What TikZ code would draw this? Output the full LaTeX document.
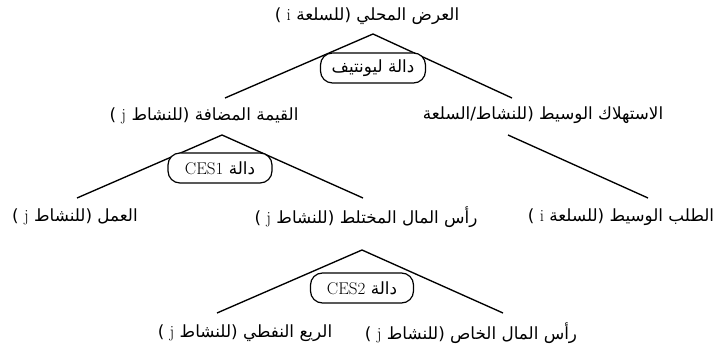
\documentclass[tikz,border=0pt]{standalone}
\usepackage{fontspec}
\TeXXeTstate=1
\newfontfamily\arabicfont[Script=Arabic]{DejaVu Sans}
\newcommand{\lat}[1]{\beginL{\rmfamily\fontsize{17}{20}\selectfont #1}\endL{}}
\begin{document}
\begin{tikzpicture}[x=1pt,y=-1pt,
  lbl/.style={font=\arabicfont\fontsize{16.8}{20}\selectfont, inner sep=0pt},
  fnbox/.style={draw, line width=1.2pt, rounded corners=12pt, fill=white,
    font=\arabicfont\fontsize{16.8}{20}\selectfont, minimum height=30pt, inner xsep=4pt},
  br/.style={line width=1.35pt}]
\useasboundingbox (0,0) rectangle (718,352);
% labels
\node[lbl] (top) at (367,16) {\beginR العرض المحلي (للسلعة \lat{i} )\endR};
\node[lbl] (va) at (204,116) {\beginR القيمة المضافة (للنشاط \lat{j} )\endR};
\node[lbl] (ic) at (543,115) {\beginR الاستهلاك الوسيط (للنشاط/السلعة\endR};
\node[lbl] (lab) at (75,217) {\beginR العمل (للنشاط \lat{j} )\endR};
\node[lbl] (mix) at (366,217) {\beginR رأس المال المختلط (للنشاط \lat{j} )\endR};
\node[lbl] (idm) at (621,217) {\beginR الطلب الوسيط (للسلعة \lat{i} )\endR};
\node[lbl] (oil) at (245,333) {\beginR الريع النفطي (للنشاط \lat{j} )\endR};
\node[lbl] (prv) at (471,333) {\beginR رأس المال الخاص (للنشاط \lat{j} )\endR};
% branch points
\coordinate (t1) at (373,34);
\coordinate (l1) at (225,98);
\coordinate (r1) at (512,98);
\coordinate (t2) at (222,135);
\coordinate (l2) at (77,198);
\coordinate (r2) at (363,198);
\coordinate (t3) at (508,135);
\coordinate (e3) at (648,198);
\coordinate (t4) at (362,250);
\coordinate (l4) at (217,313);
\coordinate (r4) at (503,313);
\draw[br] (l1) -- (t1) -- (r1);
\draw[br] (l2) -- (t2) -- (r2);
\draw[br] (t3) -- (e3);
\draw[br] (l4) -- (t4) -- (r4);
% function boxes
\node[fnbox, minimum width=105pt] (leo) at (373,68) {\beginR دالة ليونتيف\endR};
\node[fnbox, minimum width=104pt] (ces1) at (220,168) {\beginR دالة \lat{CES1}\endR};
\node[fnbox, minimum width=103pt] (ces2) at (362,288) {\beginR دالة \lat{CES2}\endR};
\end{tikzpicture}
\end{document}
